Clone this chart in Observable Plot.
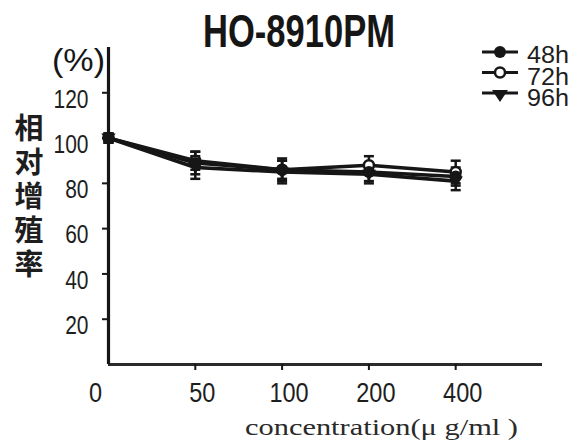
<!DOCTYPE html>
<html>
<head>
<meta charset="utf-8">
<script src="https://cdn.jsdelivr.net/npm/d3@7"></script>
<script src="https://cdn.jsdelivr.net/npm/@observablehq/plot@0.6"></script>
<style>
  html, body { margin: 0; padding: 0; background: white; }
  #chart { width: 568px; height: 442px; }
</style>
</head>
<body>
<div id="chart"></div>
<script>
// ---- data ----
const concentrations = [0, 50, 100, 200, 400];
const xTickLabels = ["0", "50", "100", "200", "400"];
const series = ["48h", "72h", "96h"];
const values48 = [100, 89, 86, 85, 83];
const values72 = [100, 90, 86, 88, 85];
const values96 = [100, 87, 85, 84, 81];
const errors48 = [2, 5, 5, 4, 4];
const errors72 = [2, 4, 4, 4, 5];
const errors96 = [2, 5, 5, 4, 4];
const yTicks = [20, 40, 60, 80, 100, 120];
const titleText = "HO-8910PM";
const yLabelText = "相对增殖率";
const yUnitText = "(%)";
const xLabelText = "concentration(μ g/ml )";

const values = [values48, values72, values96];
const errors = [errors48, errors72, errors96];
const rows = [];
series.forEach((s, k) => concentrations.forEach((c, i) =>
  rows.push({series: s, i, conc: c, value: values[k][i], err: errors[k][i]})));
const xIdx = concentrations.map((c, i) => i);

const ink = "#161616";
const capSymbol = { draw(ctx, size) { const r = Math.sqrt(size / Math.PI); ctx.moveTo(-r, 0); ctx.lineTo(r, 0); } };
const triDown = { draw(ctx, size) { const r = Math.sqrt(size / Math.PI); ctx.moveTo(-r * 1.2, -r * 0.75); ctx.lineTo(r * 1.2, -r * 0.75); ctx.lineTo(0, r * 1.05); ctx.closePath(); } };

const svg = Plot.plot({
  width: 568,
  height: 442,
  marginTop: 47,
  marginBottom: 78,
  marginLeft: 108,
  marginRight: 26,
  style: {background: "white", fontFamily: "'Liberation Sans', Arial, sans-serif"},
  x: {type: "linear", domain: [0, 5], axis: null},
  y: {domain: [0, 140], axis: null},
  marks: [
    // axes lines
    Plot.ruleY([0], {x1: 0, x2: 5, stroke: "#2a2a2a", strokeWidth: 3}),
    Plot.ruleX([0], {y1: 0, y2: 140, stroke: ink, strokeWidth: 3.2}),
    // ticks
    Plot.axisY(yTicks, {anchor: "left", tickSize: 6, tickFormat: () => "", label: null, stroke: ink, strokeWidth: 2}),
    Plot.axisX(xIdx.slice(1, 5), {anchor: "bottom", tickSize: 6, tickFormat: () => "", label: null, stroke: ink, strokeWidth: 2}),
    // tick labels
    Plot.text(yTicks, {y: d => d, frameAnchor: "left", text: d => String(d), dx: -20, dy: -3,
      textAnchor: "end", lineAnchor: "top", fontSize: 25, fill: "#1e1e1e"}),
    Plot.text(xIdx.slice(1), {x: i => i, frameAnchor: "bottom", text: i => xTickLabels[i], dx: 7, dy: 18,
      lineAnchor: "top", fontSize: 27, fill: "#1e1e1e"}),
    Plot.text(xIdx.slice(0, 1), {x: i => i, frameAnchor: "bottom", text: i => xTickLabels[i], dx: -13, dy: 18,
      lineAnchor: "top", fontSize: 27, fill: "#1e1e1e"}),
    // data
    Plot.line(rows, {x: "i", y: "value", z: "series", stroke: ink, strokeWidth: 3.6, strokeLinejoin: "round"}),
    Plot.ruleX(rows, {x: "i", y1: d => d.value - d.err, y2: d => d.value + d.err, stroke: ink, strokeWidth: 2.5}),
    Plot.dot(rows, {x: "i", y: d => d.value + d.err, r: 5, symbol: capSymbol, stroke: ink, strokeWidth: 2.5, fill: "none"}),
    Plot.dot(rows, {x: "i", y: d => d.value - d.err, r: 5, symbol: capSymbol, stroke: ink, strokeWidth: 2.5, fill: "none"}),
    Plot.dot(rows.filter(d => d.series === "96h"), {x: "i", y: "value", r: 6, symbol: triDown, fill: ink, stroke: "none"}),
    Plot.dot(rows.filter(d => d.series === "72h"), {x: "i", y: "value", r: 5, fill: "white", stroke: ink, strokeWidth: 2.5}),
    Plot.dot(rows.filter(d => d.series === "48h"), {x: "i", y: "value", r: 6, fill: ink, stroke: "none"})
  ]
});

document.getElementById("chart").appendChild(svg);
const s = d3.select(svg);

// title
s.append("text").attr("x", 299).attr("y", 47).attr("text-anchor", "middle")
  .attr("font-family", "'Liberation Sans', Arial, sans-serif").attr("font-weight", "bold")
  .attr("font-size", 47).attr("fill", ink).attr("textLength", 192).attr("lengthAdjust", "spacingAndGlyphs")
  .text(titleText);

// unit
s.append("text").attr("x", 52).attr("y", 71).attr("text-anchor", "start")
  .attr("font-family", "'Liberation Sans', Arial, sans-serif").attr("font-size", 31)
  .attr("fill", ink).attr("textLength", 53).attr("lengthAdjust", "spacingAndGlyphs")
  .text(yUnitText);

// vertical y label (upright CJK characters, stacked)
const yl = s.append("text").attr("text-anchor", "middle")
  .attr("font-family", "'Noto Sans CJK SC', sans-serif").attr("font-weight", "bold")
  .attr("font-size", 29).attr("fill", "#1e1e1e").attr("aria-label", yLabelText);
Array.from(yLabelText).forEach((ch, j) => {
  yl.append("tspan").attr("x", 29).attr("y", 139 + j * 34).text(ch);
});

// x label
s.append("text").attr("x", 245).attr("y", 435).attr("text-anchor", "start")
  .attr("font-family", "'Liberation Serif', 'DejaVu Serif', serif").attr("font-size", 23)
  .attr("fill", "#2a2a2a").attr("textLength", 273).attr("lengthAdjust", "spacingAndGlyphs")
  .text(xLabelText);

// legend
const lg = s.append("g");
series.forEach((name, k) => {
  const cy = 52 + k * 20.5;
  lg.append("line").attr("x1", 482).attr("x2", 518).attr("y1", cy).attr("y2", cy)
    .attr("stroke", ink).attr("stroke-width", 3.2);
  if (k === 0) lg.append("circle").attr("cx", 500).attr("cy", cy).attr("r", 6).attr("fill", ink);
  if (k === 1) lg.append("circle").attr("cx", 500).attr("cy", cy).attr("r", 5).attr("fill", "white")
    .attr("stroke", ink).attr("stroke-width", 2.5);
  if (k === 2) lg.append("path").attr("transform", `translate(500,${cy})`)
    .attr("d", "M-8,-3L8,-3L0,9Z").attr("fill", ink);
  lg.append("text").attr("x", 527).attr("y", 63 + k * 21.5).attr("text-anchor", "start")
    .attr("font-family", "'Liberation Sans', Arial, sans-serif").attr("font-size", 23)
    .attr("fill", "#1e1e1e").attr("textLength", 42).attr("lengthAdjust", "spacingAndGlyphs")
    .text(name);
});

// condense tick labels horizontally about their anchor point (narrow digits as in the reference)
function condense(sel, factor) {
  svg.querySelectorAll(sel).forEach(t => {
    const ax = parseFloat(t.getAttribute("x") || 0);
    const tr = t.getAttribute("transform") || "";
    t.setAttribute("transform", `${tr} translate(${ax},0) scale(${factor},1) translate(${-ax},0)`);
  });
}
condense('g[font-size="25"] > text', 0.84);
condense('g[font-size="27"] > text', 0.87);
</script>
</body>
</html>
